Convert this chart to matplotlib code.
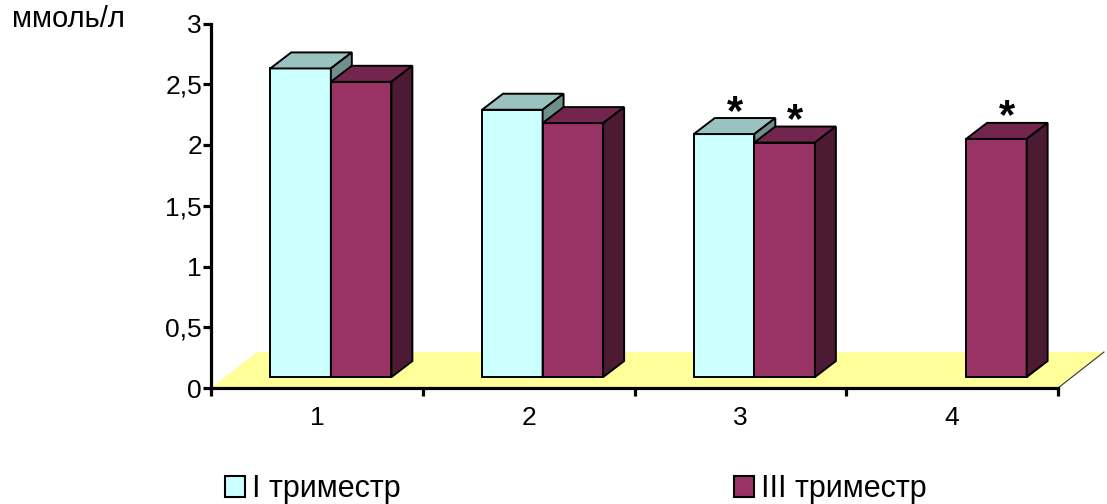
import matplotlib.pyplot as plt
from matplotlib.patches import Polygon, Patch
import numpy as np

plt.rcParams['font.family'] = ['Liberation Sans', 'DejaVu Sans']

categories = ['1', '2', '3', '4']
trim1 = [2.63, 2.29, 2.09, np.nan]
trim3 = [2.52, 2.18, 2.02, 2.05]
star1 = [False, False, True, False]
star3 = [False, False, True, True]
y_ticks = [0, 0.5, 1, 1.5, 2, 2.5, 3]
y_tick_labels = ['0', '0,5', '1', '1,5', '2', '2,5', '3']
series_names = ['I триместр', 'III триместр']

# face colours: front, top, side
cyan = ('#ccffff', '#99c2c0', '#6f8f8c')
plum = ('#993366', '#73264d', '#4d1a33')
floor_color = '#ffff99'

W, H = 1107, 504
fig = plt.figure(figsize=(W / 100, H / 100), dpi=100)
ax = fig.add_axes([211 / W, (H - 388) / H, (1058 - 211) / W, (388 - 23.5) / H])
ax.set_xlim(0, 4)
ax.set_ylim(0, 3)

# oblique depth of bars and floor, in data units
bar_w = 0.286
dx, dy = 0.099, 0.132
fdx, fdy = 0.217, 0.296
off_x, off_y = 0.066, 0.09


def box(x0, top, colors):
    x1 = x0 + bar_w
    b = off_y
    kw = dict(edgecolor='black', linewidth=1.4, joinstyle='miter', clip_on=False, zorder=3)
    ax.add_patch(Polygon([(x0, b), (x1, b), (x1, top), (x0, top)], facecolor=colors[0], **kw))
    ax.add_patch(Polygon([(x0, top), (x1, top), (x1 + dx, top + dy), (x0 + dx, top + dy)],
                         facecolor=colors[1], **kw))
    ax.add_patch(Polygon([(x1, b), (x1 + dx, b + dy), (x1 + dx, top + dy), (x1, top)],
                         facecolor=colors[2], **kw))


def star(x0, top):
    ax.annotate('*', (x0 + bar_w / 2 + dx / 2, top + dy), xytext=(0, -4),
                textcoords='offset points', ha='center', va='baseline', fontsize=30,
                fontweight='bold', zorder=4, annotation_clip=False)


# floor
ax.add_patch(Polygon([(0, 0), (4, 0), (4 + fdx, fdy), (fdx, fdy)], facecolor=floor_color,
                     edgecolor='none', clip_on=False, zorder=1))
ax.plot([4, 4 + fdx], [0, fdy], color='#333333', linewidth=0.8, clip_on=False, zorder=1)

centers = np.arange(len(categories)) + 0.5
for i, c in enumerate(centers):
    x_c = c - bar_w + off_x
    x_p = c + off_x
    if not np.isnan(trim1[i]):
        box(x_c, trim1[i], cyan)
        if star1[i]:
            star(x_c, trim1[i])
    box(x_p, trim3[i], plum)
    if star3[i]:
        star(x_p, trim3[i])

# axes
for side in ['top', 'right']:
    ax.spines[side].set_visible(False)
for side in ['left', 'bottom']:
    ax.spines[side].set_linewidth(2.3)
    ax.spines[side].set_zorder(2)
ax.patch.set_visible(False)

ax.set_yticks(y_ticks)
ax.set_yticklabels(y_tick_labels, fontsize=19)
ax.tick_params(axis='y', length=6, width=2.3, pad=0.5)
ax.set_xticks(np.arange(5))
ax.set_xticklabels([])
ax.tick_params(axis='x', which='major', length=6, width=2.3)
ax.set_xticks(centers, minor=True)
ax.set_xticklabels(categories, minor=True, fontsize=19)
ax.tick_params(axis='x', which='minor', length=0, pad=13)

fig.text(12 / W, 1 - 27 / H, 'ммоль/л', fontsize=21, ha='left', va='baseline')

handles = [Patch(facecolor=cyan[0], edgecolor='black', linewidth=1.5),
           Patch(facecolor=plum[0], edgecolor='black', linewidth=1.5)]
fig.legend(handles, series_names, loc='center left', bbox_to_anchor=(225 / W, 1 - 489 / H),
           ncol=2, frameon=False, fontsize=22, handlelength=0.66, handleheight=0.66,
           handletextpad=0.23, columnspacing=10.9, borderpad=0, borderaxespad=0)

fig.savefig('out.png', dpi=100)
